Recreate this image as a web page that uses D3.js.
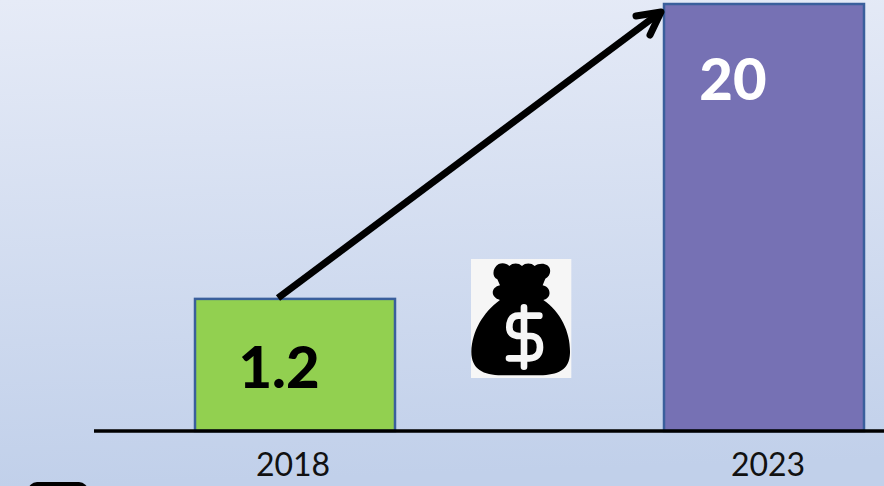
<!DOCTYPE html>
<html><head><meta charset="utf-8">
<script src="https://cdn.jsdelivr.net/npm/d3@7"></script>
<style>html,body{margin:0;padding:0;overflow:hidden;background:#dfe6f5}svg{display:block}text{font-family:Lato,"Open Sans",sans-serif}</style>
</head><body><svg id="c" width="884" height="486"></svg>
<script>
const categories = ["2018","2023"];
const values = [1.2,20];
const valueLabels = ["1.2","20"];
const barColors = ["#92d050","#7671b4"];
const labelColors = ["#000000","#ffffff"];

const W=884,H=486,baseY=431,topY=4;
const svg=d3.select("#c");
const defs=svg.append("defs");
const g=defs.append("linearGradient").attr("id","bg").attr("x1",0).attr("y1",0).attr("x2",0.06).attr("y2",1);
g.append("stop").attr("offset",0).attr("stop-color","#e6ebf7");
g.append("stop").attr("offset",1).attr("stop-color","#c1d0ea");
svg.append("rect").attr("width",W).attr("height",H).attr("fill","url(#bg)");

// the picture's bars are not linear in value, so a power scale is used
const x=d3.scalePoint().domain(categories).range([295,764]);
const y=d3.scalePow().exponent(0.417).domain([0,20]).range([baseY,topY]);
const barW=200;

svg.selectAll("rect.bar").data(values).join("rect").attr("class","bar")
 .attr("x",(d,i)=>x(categories[i])-barW/2).attr("width",barW)
 .attr("y",d=>y(d)).attr("height",d=>baseY-y(d))
 .attr("fill",(d,i)=>barColors[i]).attr("stroke","#3a5f9c").attr("stroke-width",2.5);

// axis baseline and category labels
svg.append("line").attr("x1",94).attr("x2",W).attr("y1",baseY).attr("y2",baseY).attr("stroke","#000").attr("stroke-width",3.5);
svg.selectAll("text.cat").data(categories).join("text").attr("class","cat")
 .attr("x",d=>x(d)+(d==="2018"?-2:4)).attr("y",476).attr("text-anchor","middle")
 .attr("font-size",32).attr("fill","#111").text(d=>d);

// value labels
svg.selectAll("text.val").data(valueLabels).join("text").attr("class","val")
 .attr("x",(d,i)=>x(categories[i])+(i?-31:-16)).attr("y",(d,i)=>i?100:388)
 .attr("text-anchor","middle").attr("font-size",(d,i)=>i?58:58).attr("font-weight",900)
 .attr("fill",(d,i)=>labelColors[i]).text(d=>d);

// arrow
const arrow=svg.append("g").attr("fill","none").attr("stroke","#000").attr("stroke-width",7);
arrow.append("line").attr("x1",278).attr("y1",298).attr("x2",658).attr("y2",14);
arrow.append("path").attr("stroke-linecap","round").attr("stroke-linejoin","round").attr("d","M636,16L661,12L650,35");

// money bag icon
const bag=svg.append("g").attr("transform","translate(460,250) scale(0.3333)");
bag.append("rect").attr("x",33).attr("y",27).attr("width",301).attr("height",357).attr("fill","#f6f6f6");
bag.append("path").attr("fill","#000").attr("d","M116,42C128,38 140,40 148,48C158,38 176,38 186,48C196,38 214,38 224,48C234,40 252,38 262,46C276,56 272,78 256,86L248,106C272,110 278,142 250,150C304,186 332,250 330,310C328,362 292,375 240,376L125,376C70,375 34,358 34,305C36,245 68,188 120,150C90,142 92,112 120,106L112,88C94,80 98,52 116,42Z");
bag.append("path").attr("fill","none").attr("stroke","#f6f6f6").attr("stroke-width",20).attr("stroke-linecap","round")
 .attr("d","M238,197L175,197C150,197 148,222 148,232C148,250 160,258 178,258L212,258C232,258 240,272 240,292C240,312 230,325 208,325L147,325M192,172L192,350");

// cut-off black shape at the bottom-left edge
svg.append("rect").attr("x",28).attr("y",482).attr("width",60).attr("height",20).attr("rx",9).attr("fill","#000");
</script></body></html>
